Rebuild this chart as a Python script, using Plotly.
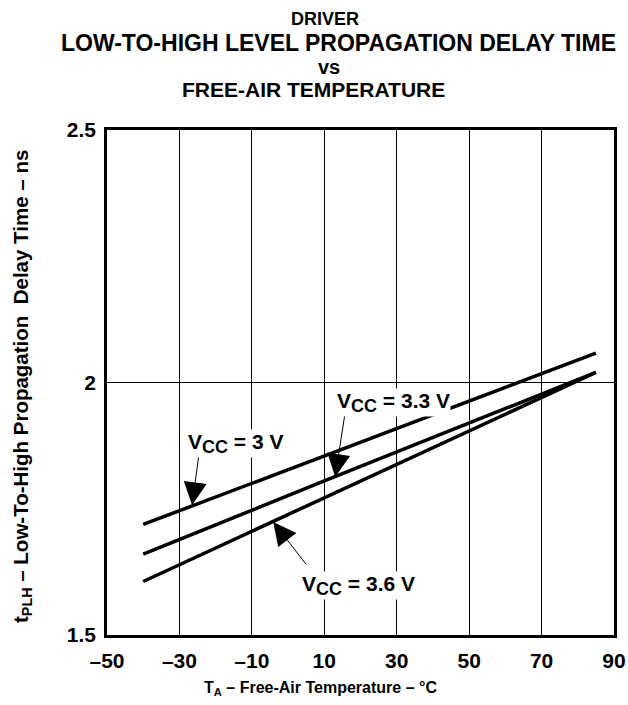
import plotly.graph_objects as go

# Data
temp_c = [-40, 10, 85]
t_plh_3v0 = [1.719, 1.855, 2.058]
t_plh_3v3 = [1.660, 1.805, 2.020]
t_plh_3v6 = [1.606, 1.771, 2.020]

x_ticks = [-50, -30, -10, 10, 30, 50, 70, 90]
x_tick_text = ["–50", "–30", "–10", "10", "30", "50", "70", "90"]
y_ticks = [1.5, 2, 2.5]
y_tick_text = ["1.5", "2", "2.5"]

series_names = ["V<sub><span style='font-size:18px'>CC</span></sub> = 3 V",
                "V<sub><span style='font-size:18px'>CC</span></sub> = 3.3 V",
                "V<sub><span style='font-size:18px'>CC</span></sub> = 3.6 V"]
# label centre (temperature, delay), arrow tip, arrow tail
label_pos = [(-14.5, 1.880), (29.0, 1.960), (19.5, 1.598)]
arrow_tip = [(-26.5, 1.757), (13.0, 1.813), (-4.1, 1.724)]
arrow_tail = [(-24.6, 1.858), (15.7, 1.938), (5.3, 1.637)]

FONT = "Liberation Sans, Arial, sans-serif"

fig = go.Figure()
for ys in (t_plh_3v0, t_plh_3v3, t_plh_3v6):
    fig.add_trace(go.Scatter(x=temp_c, y=ys, mode="lines",
                             line=dict(color="black", width=3.5),
                             showlegend=False, hoverinfo="skip"))

annotations = []
for name, (lx, ly), (tx, ty), (ax, ay) in zip(series_names, label_pos, arrow_tip, arrow_tail):
    annotations.append(dict(x=tx, y=ty, ax=ax, ay=ay, xref="x", yref="y",
                            axref="x", ayref="y", text="", showarrow=True,
                            arrowhead=2, arrowsize=4.6, arrowwidth=1,
                            arrowcolor="black"))
    annotations.append(dict(x=lx, y=ly, xref="x", yref="y", text="<b>" + name + "</b>",
                            showarrow=False, bgcolor="white", borderpad=0,
                            font=dict(family=FONT, size=21, color="black")))

# (text, font size, centre x in px, centre y in px)
title_lines = [("DRIVER", 18, 325, 19), ("LOW-TO-HIGH LEVEL PROPAGATION DELAY TIME", 23, 338, 43),
               ("vs", 20, 329, 67), ("FREE-AIR TEMPERATURE", 21, 313, 90)]
for txt, fs, xpx, ypx in title_lines:
    annotations.append(dict(x=(xpx - 107) / 507, y=1 + (130 - ypx) / 505,
                            xref="paper", yref="paper",
                            text="<b>" + txt + "</b>", showarrow=False,
                            xanchor="center", yanchor="middle",
                            font=dict(family=FONT, size=fs, color="black")))

# axis titles
annotations.append(dict(x=(320 - 107) / 507, y=-0.105, xref="paper", yref="paper",
                        text="<b>T<sub>A</sub> – Free-Air Temperature – °C</b>",
                        showarrow=False, xanchor="center", yanchor="middle",
                        font=dict(family=FONT, size=16, color="black")))
annotations.append(dict(x=-0.1677, y=1 - (386 - 130) / 505, xref="paper", yref="paper", textangle=-90,
                        text="<b>t<sub>PLH</sub> – Low-To-High Propagation  Delay Time – ns</b>",
                        showarrow=False, xanchor="center", yanchor="middle",
                        font=dict(family=FONT, size=20.5, color="black")))

fig.update_layout(
    width=628, height=705, autosize=False,
    margin=dict(l=107, r=14, t=130, b=70),
    plot_bgcolor="white", paper_bgcolor="white",
    font=dict(family=FONT, color="black"),
    annotations=annotations,
)
fig.update_xaxes(range=[-50, 90], tickvals=x_ticks, ticktext=["<b>%s</b>" % t for t in x_tick_text],
                 showgrid=True, gridcolor="black", gridwidth=1,
                 showline=True, linecolor="black", linewidth=2.5, mirror=True,
                 ticks="", ticklabelstandoff=5, zeroline=False, automargin=False,
                 tickfont=dict(family=FONT, size=21, color="black"))
fig.update_yaxes(range=[1.5, 2.5], tickvals=y_ticks, ticktext=["<b>%s</b>" % t for t in y_tick_text],
                 showgrid=True, gridcolor="black", gridwidth=1,
                 showline=True, linecolor="black", linewidth=2.5, mirror=True,
                 ticks="", ticklabelstandoff=4, zeroline=False, automargin=False,
                 tickfont=dict(family=FONT, size=21, color="black"))

fig.write_html("out.html", config={"displayModeBar": False},
               post_script="document.body.style.margin='0px';")
